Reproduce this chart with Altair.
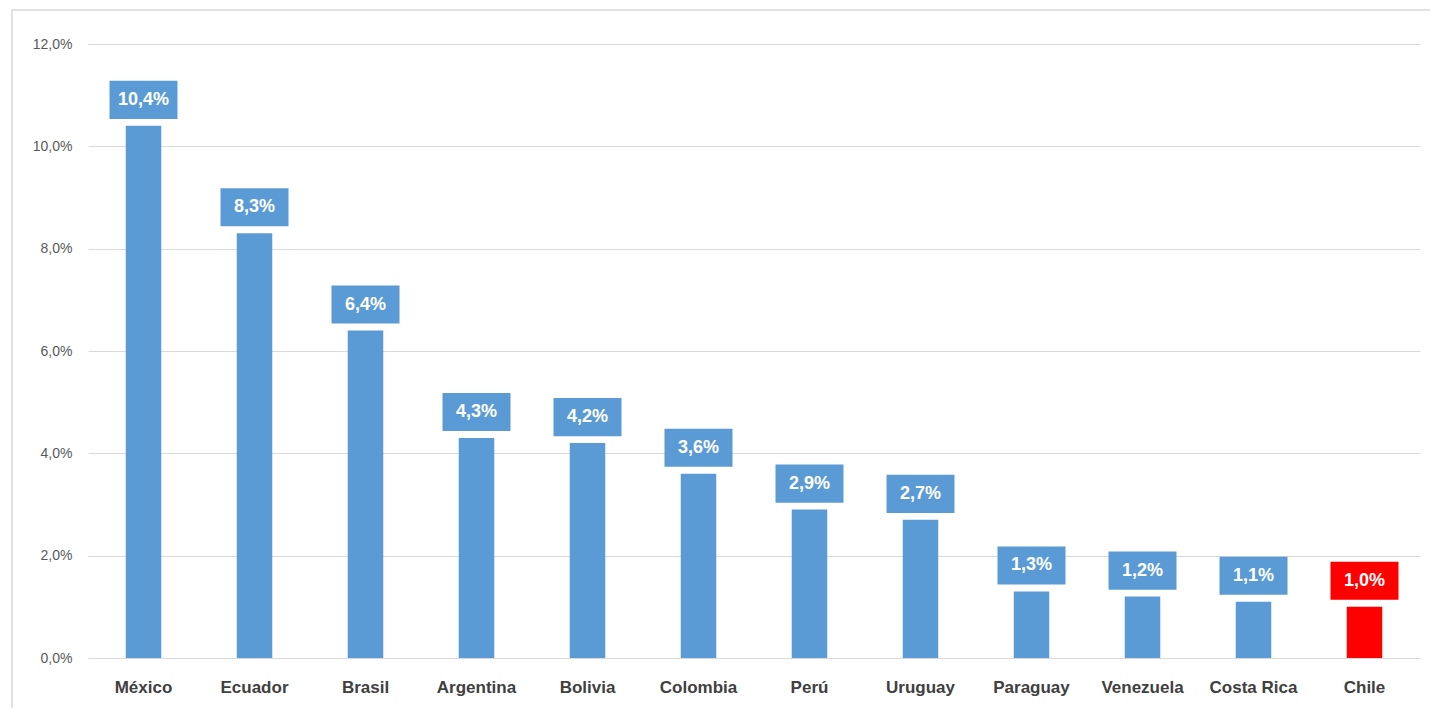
import altair as alt
import pandas as pd

paises = ["México", "Ecuador", "Brasil", "Argentina", "Bolivia", "Colombia",
          "Perú", "Uruguay", "Paraguay", "Venezuela", "Costa Rica", "Chile"]
valores = [10.4, 8.3, 6.4, 4.3, 4.2, 3.6, 2.9, 2.7, 1.3, 1.2, 1.1, 1.0]
etiquetas = ["10,4%", "8,3%", "6,4%", "4,3%", "4,2%", "3,6%",
             "2,9%", "2,7%", "1,3%", "1,2%", "1,1%", "1,0%"]

df = pd.DataFrame({"pais": paises, "valor": valores, "etiqueta": etiquetas})
df["color"] = ["#5b9bd5"] * 11 + ["#ff0000"]

x = alt.X("pais:N", sort=paises, title=None,
          scale=alt.Scale(paddingInner=0.68, paddingOuter=0.34),
          axis=alt.Axis(labelAngle=0, labelFontSize=17, labelFontWeight="bold",
                        labelColor="#404040", labelPadding=21, ticks=False,
                        domainColor="#d9d9d9"))
y = alt.Y("valor:Q", title=None,
          scale=alt.Scale(domain=[0, 12]),
          axis=alt.Axis(values=[0, 2, 4, 6, 8, 10, 12],
                        labelExpr="replace(format(datum.value, '.1f'), '.', ',') + '%'",
                        labelFontSize=14, labelColor="#595959", labelPadding=16,
                        domain=False, ticks=False, gridColor="#d9d9d9"))

base = alt.Chart(df).encode(x=x, y=y)

barras = base.mark_bar().encode(color=alt.Color("color:N", scale=None))
cajas = base.mark_point(
    shape="M-1,-0.56L1,-0.56L1,0.56L-1,0.56Z", size=4624, filled=True,
    opacity=1, yOffset=-26
).encode(color=alt.Color("color:N", scale=None))
textos = base.mark_text(
    yOffset=-26, fontSize=18, fontWeight="bold", color="white", font="Liberation Sans"
).encode(text="etiqueta:N")

marco = alt.Chart(pd.DataFrame({"a": [0]})).mark_rect(
    fill=None, stroke="#d9d9d9", strokeWidth=1.5
).encode(x=alt.value(-76), x2=alt.value(1347), y=alt.value(-34), y2=alt.value(669))

chart = alt.layer(marco, barras, cajas, textos).properties(
    width=1332, height=614,
    autosize=alt.AutoSizeParams(type="none"),
    padding={"left": 80, "top": 36, "right": 10, "bottom": 50},
).configure_view(stroke=None).configure_axis(labelFont="Liberation Sans")

chart.save("out.html", embed_options={"renderer": "svg", "actions": False})
